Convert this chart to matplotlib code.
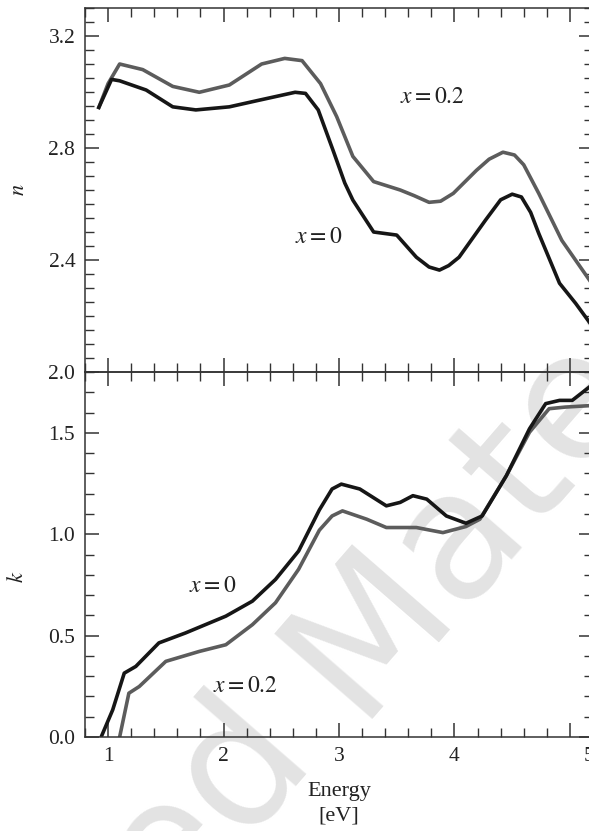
import matplotlib
matplotlib.use('Agg')
import matplotlib.pyplot as plt
import matplotlib.transforms as mtransforms
from matplotlib.ticker import MultipleLocator

plt.rcParams['font.family'] = ['Liberation Serif', 'DejaVu Serif']
plt.rcParams['mathtext.fontset'] = 'stix'

# ----- data -----
# refractive index n
n_E_x0 = [0.92, 1.03, 1.10, 1.33, 1.56, 1.76, 2.05, 2.30, 2.62, 2.71, 2.82, 2.95, 3.05,
          3.12, 3.30, 3.50, 3.67, 3.78, 3.87, 3.95, 4.04, 4.27, 4.40, 4.50, 4.58, 4.66,
          4.73, 4.91, 5.05, 5.20]
n_x0 = [2.945, 3.045, 3.04, 3.007, 2.947, 2.936, 2.947, 2.97, 2.999, 2.995, 2.936, 2.79, 2.675,
        2.614, 2.50, 2.489, 2.41, 2.375, 2.364, 2.38, 2.41, 2.543, 2.615, 2.635, 2.625, 2.57,
        2.495, 2.317, 2.245, 2.16]

n_E_x02 = [0.92, 1.00, 1.10, 1.30, 1.56, 1.79, 2.05, 2.33, 2.53, 2.68, 2.84, 2.98, 3.12,
           3.30, 3.53, 3.65, 3.78, 3.88, 3.99, 4.19, 4.30, 4.42, 4.52, 4.60, 4.73, 4.93, 5.20]
n_x02 = [2.945, 3.03, 3.10, 3.08, 3.02, 2.999, 3.025, 3.10, 3.12, 3.112, 3.03, 2.912, 2.77,
         2.68, 2.65, 2.63, 2.606, 2.61, 2.638, 2.72, 2.76, 2.785, 2.775, 2.74, 2.638, 2.47, 2.31]

# extinction coefficient k
k_E_x0 = [0.94, 1.04, 1.14, 1.24, 1.44, 1.67, 2.02, 2.25, 2.45, 2.65, 2.83, 2.94, 3.02, 3.18,
          3.41, 3.53, 3.64, 3.76, 3.93, 4.10, 4.24, 4.45, 4.65, 4.79, 4.91, 5.02, 5.20]
k_x0 = [0.0, 0.134, 0.315, 0.348, 0.464, 0.513, 0.596, 0.67, 0.777, 0.917, 1.12, 1.223, 1.247, 1.223,
        1.14, 1.157, 1.19, 1.173, 1.09, 1.054, 1.09, 1.289, 1.52, 1.644, 1.66, 1.66, 1.74]

k_E_x02 = [1.10, 1.18, 1.27, 1.50, 1.79, 2.02, 2.25, 2.45, 2.65, 2.83, 2.94, 3.03, 3.24, 3.41,
           3.67, 3.90, 4.10, 4.22, 4.45, 4.65, 4.82, 4.96, 5.20]
k_x02 = [0.0, 0.216, 0.249, 0.373, 0.422, 0.455, 0.554, 0.662, 0.827, 1.02, 1.09, 1.115, 1.074, 1.033,
         1.033, 1.008, 1.038, 1.074, 1.289, 1.503, 1.619, 1.627, 1.635]

x_ticks = [1, 2, 3, 4, 5]

BLACK = '#161616'
GRAY = '#5c5c5c'
AX = '#333333'
TXT = '#222222'

fig = plt.figure(figsize=(5.89, 8.31), dpi=100)

# watermark (partially visible)
wm_kw = dict(fontsize=128, color='#e3e3e3', family='DejaVu Sans', rotation=49,
             rotation_mode='anchor', va='baseline', zorder=-5)
fig.text(0.603, 0.135, 'Material', ha='left', **wm_kw)
fig.text(0.603, 0.135, 'Copyrighted ', ha='right', **wm_kw)

left, width = 85 / 589, 508 / 589
ax1 = fig.add_axes([left, 1 - 372 / 831, width, 364 / 831])
ax2 = fig.add_axes([left, 1 - 737 / 831, width, 365 / 831])
for ax in (ax1, ax2):
    ax.patch.set_alpha(0)

ax1.plot(n_E_x02, n_x02, color=GRAY, lw=2.6, solid_joinstyle='round')
ax1.plot(n_E_x0, n_x0, color=BLACK, lw=2.6, solid_joinstyle='round')
ax2.plot(k_E_x02, k_x02, color=GRAY, lw=2.6, solid_joinstyle='round')
ax2.plot(k_E_x0, k_x0, color=BLACK, lw=2.6, solid_joinstyle='round')

ax1.set_ylim(2.0, 3.3)
ax2.set_ylim(0.0, 1.8)
ax1.yaxis.set_minor_locator(MultipleLocator(0.05))
ax2.yaxis.set_minor_locator(MultipleLocator(0.1))
ax1.set_yticks([2.0, 2.4, 2.8, 3.2])
ax1.set_yticklabels(['2.0', '2.4', '2.8', '3.2'])
ax2.set_yticks([0.0, 0.5, 1.0, 1.5])
ax2.set_yticklabels(['0.0', '0.5', '1.0', '1.5'])

for ax in (ax1, ax2):
    ax.set_xlim(0.8, 5.2)
    ax.set_xticks(x_ticks)
    ax.xaxis.set_minor_locator(MultipleLocator(0.2))
    ax.tick_params(which='both', direction='in', top=True, right=True, color=AX,
                   labelsize=15.5, labelcolor=TXT)
    ax.tick_params(which='major', length=10, width=1.1, pad=7)
    ax.tick_params(which='minor', length=6.5, width=1.0)
    for s in ax.spines.values():
        s.set_color(AX)
        s.set_linewidth(1.1)

ax1.tick_params(labelbottom=False)
ax2.set_xticklabels([str(t) for t in x_ticks])
# the last energy label sits at the cut-off right edge
lab5 = ax2.get_xticklabels()[-1]
lab5.set_transform(lab5.get_transform() + mtransforms.ScaledTranslation(0.19, 0, fig.dpi_scale_trans))

ax1.set_ylabel('$n$', fontsize=16, color=TXT)
ax1.yaxis.set_label_coords(-0.11, 0.5)
ax2.set_ylabel('$k$', fontsize=16, color=TXT)
ax2.yaxis.set_label_coords(-0.112, 0.44)
ax2.set_xlabel('Energy\n[eV]', fontsize=16, color=TXT, linespacing=1.35, labelpad=12)

ax1.text(3.81, 2.98, '$x = 0.2$', fontsize=17, ha='center', va='center', color=TXT)
ax1.text(2.82, 2.48, '$x = 0$', fontsize=17, ha='center', va='center', color=TXT)
ax2.text(1.91, 0.74, '$x = 0$', fontsize=17, ha='center', va='center', color=TXT)
ax2.text(2.19, 0.25, '$x = 0.2$', fontsize=17, ha='center', va='center', color=TXT)

fig.savefig('out.png', dpi=100)
